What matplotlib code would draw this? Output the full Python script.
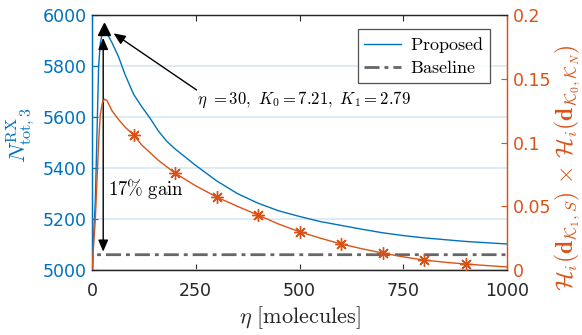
import matplotlib
matplotlib.use("Agg")
import matplotlib.pyplot as plt
import numpy as np

plt.rcParams['mathtext.fontset'] = 'cm'
plt.rcParams['font.family'] = ['DejaVu Sans']

# ---------------- data ----------------
eta = [0, 8, 16, 20, 25, 30, 36, 48, 64, 80, 100, 120, 140, 160, 180, 200,
       250, 300, 350, 400, 450, 500, 550, 600, 650, 700, 750, 800, 850, 900,
       950, 1000]
proposed = [5000, 5270, 5800, 5890, 5928, 5940, 5928, 5892, 5836, 5765, 5690,
            5640, 5595, 5545, 5505, 5475, 5410, 5350, 5300, 5262, 5232, 5210,
            5190, 5175, 5160, 5146, 5135, 5126, 5119, 5112, 5107, 5102]
entropy_prod = [0.0, 0.04, 0.100, 0.122, 0.131, 0.134, 0.133, 0.125, 0.118,
                0.112, 0.106, 0.098, 0.092, 0.086, 0.081, 0.076, 0.066, 0.0573,
                0.050, 0.0431, 0.036, 0.030, 0.025, 0.0204, 0.0167, 0.0133,
                0.0103, 0.0078, 0.0061, 0.0047, 0.0035, 0.0024]
baseline_eta = [0, 1, 1000]
baseline = [5000, 5060, 5060]
marker_etas = [100, 200, 300, 400, 500, 600, 700, 800, 900]
peak_eta, peak_val = 30, 5944
x_ticks = [0, 250, 500, 750, 1000]
left_ticks = [5000, 5200, 5400, 5600, 5800, 6000]
right_ticks = [0, 0.05, 0.1, 0.15, 0.2]
right_ticklabels = ['0', '0.05', '0.1', '0.15', '0.2']

BLUE = '#0072BD'
ORANGE = '#D95319'
DARK = '#262626'
GRID = (0.85, 0.917, 0.961)

fig = plt.figure(figsize=(5.82, 3.35), dpi=100)
ax1 = fig.add_axes([92/582, 1-270/335, (507-92)/582, (270-15)/335])
ax2 = ax1.twinx()

# grid
ax1.set_axisbelow(True)
ax1.yaxis.grid(True, color=GRID, linewidth=1.3)

# proposed and baseline
l1, = ax1.plot(eta, proposed, color=BLUE, linewidth=1.0, label=r'$\mathrm{Proposed}$', zorder=3)
l2, = ax1.plot(baseline_eta, baseline, color=(0.4, 0.4, 0.4), linewidth=2.0,
               linestyle=(0, (5.4, 1.8, 1.4, 1.8)), label=r'$\mathrm{Baseline}$', zorder=3)

# entropy product on right axis
mk = [eta.index(m) for m in marker_etas]
ax2.plot(eta, entropy_prod, color=ORANGE, linewidth=1.0, marker=(8, 2, 0),
         markevery=mk, markersize=9, markeredgewidth=1.0, zorder=3)

# peak triangle
ax1.plot([peak_eta], [peak_val], marker='^', color='black', markersize=9, zorder=6)

# axes limits / ticks
ax1.set_xlim(0, 1000)
ax1.set_ylim(5000, 6000)
ax2.set_ylim(0, 0.2)
ax1.set_xticks(x_ticks)
ax1.set_xticklabels([str(t) for t in x_ticks])
ax1.set_yticks(left_ticks)
ax1.set_yticklabels([str(t) for t in left_ticks])
ax2.set_yticks(right_ticks)
ax2.set_yticklabels(right_ticklabels)

ax1.tick_params(axis='x', direction='in', length=4, width=0.8, colors=DARK,
                labelsize=12.5, pad=9, top=True)
ax1.tick_params(axis='y', direction='in', length=4, width=0.8, colors=BLUE,
                labelsize=12.5, pad=4)
ax2.tick_params(axis='y', direction='in', length=4, width=0.8, colors=ORANGE,
                labelsize=12.5, pad=4)

for ax in (ax1, ax2):
    ax.spines['left'].set_color(BLUE)
    ax.spines['right'].set_color(ORANGE)
    ax.spines['top'].set_color(DARK)
    ax.spines['bottom'].set_color(DARK)
    for s in ax.spines.values():
        s.set_linewidth(0.9)

ax1.set_xlabel(r'$\eta\ \mathrm{[molecules]}$', fontsize=16, color=DARK, labelpad=3)
ax1.set_ylabel(r'$N^{\mathrm{RX}}_{\mathrm{tot},3}$', fontsize=16.5, color=BLUE)
ax1.yaxis.set_label_coords(-0.133, 0.53)
ax2.set_ylabel(r'$\mathcal{H}_i(\mathbf{d}_{\mathcal{K}_1,S})\,\times\,\mathcal{H}_i(\mathbf{d}_{\mathcal{K}_0,\mathcal{K}_N})$',
               fontsize=17, color=ORANGE)
ax2.yaxis.set_label_coords(1.11, 0.40)

# annotations
ax1.annotate('', xy=(27, 5910), xytext=(27, 5072),
             arrowprops=dict(arrowstyle='<|-|>,head_length=0.7,head_width=0.3',
                             color='black', lw=1.0, shrinkA=0, shrinkB=0), zorder=5)
ax1.annotate('', xy=(52, 5928), xytext=(252, 5706),
             arrowprops=dict(arrowstyle='-|>,head_length=0.7,head_width=0.3',
                             color='black', lw=1.0, shrinkA=0, shrinkB=0), zorder=5)
ax1.text(253, 5667, r'$\eta\ \mathrm{=30,}\ K_0\mathrm{=7.21,}\ K_1\mathrm{=2.79}$',
         fontsize=12, va='center', ha='left', color='black', zorder=6)
ax1.text(39, 5318, r'$\mathrm{17\%\ gain}$', fontsize=13.5, va='center', ha='left',
         color='black', zorder=6)

leg = ax2.legend(handles=[l1, l2], loc='upper right',
                 bbox_to_anchor=(490/582, 1-29/335), bbox_transform=fig.transFigure,
                 fontsize=13, frameon=True, fancybox=False, edgecolor=DARK,
                 handlelength=2.0, handletextpad=0.5, borderpad=0.35, labelspacing=0.2,
                 borderaxespad=0)
leg.get_frame().set_linewidth(0.9)

fig.savefig('out.png', dpi=100)
